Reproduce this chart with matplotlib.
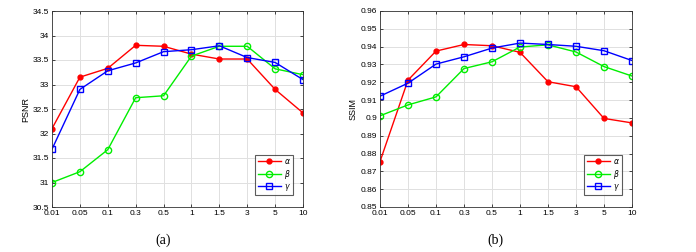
import matplotlib.pyplot as plt

lambdas = ["0.01", "0.05", "0.1", "0.3", "0.5", "1", "1.5", "3", "5", "10"]

psnr_alpha = [32.10, 33.15, 33.33, 33.80, 33.78, 33.62, 33.52, 33.52, 32.90, 32.42]
psnr_beta = [31.00, 31.22, 31.67, 32.73, 32.77, 33.58, 33.78, 33.78, 33.32, 33.20]
psnr_gamma = [31.68, 32.90, 33.28, 33.44, 33.67, 33.71, 33.79, 33.55, 33.45, 33.10]

ssim_alpha = [0.8755, 0.9212, 0.9375, 0.9412, 0.9405, 0.9368, 0.9203, 0.9175, 0.8997, 0.8972]
ssim_beta = [0.9012, 0.9073, 0.9118, 0.9277, 0.9315, 0.9398, 0.9410, 0.9370, 0.9288, 0.9235]
ssim_gamma = [0.9122, 0.9195, 0.9302, 0.9343, 0.9392, 0.9420, 0.9412, 0.9402, 0.9377, 0.9322]

plt.rcParams["font.family"] = ["Liberation Sans", "DejaVu Sans"]

fig = plt.figure(figsize=(6.96, 2.52), dpi=100)
ax1 = fig.add_axes([52 / 696, 45 / 252, 251 / 696, 196 / 252])
ax2 = fig.add_axes([380 / 696, 45 / 252, 252 / 696, 196 / 252])

x = list(range(len(lambdas)))


def draw(ax, a, b, g, ylim, yticks, ylabel, fmt):
    ax.plot(x, a, "-", color="red", marker="o", ms=3.5, mfc="red", mec="red", lw=1, label=r"$\alpha$")
    ax.plot(x, b, "-", color="#00ee00", marker="o", ms=4.5, mfc="none", mec="#00ee00", lw=1, label=r"$\beta$")
    ax.plot(x, g, "-", color="blue", marker="s", ms=4, mfc="none", mec="blue", lw=1, label=r"$\gamma$")
    ax.set_xlim(0, len(lambdas) - 1)
    ax.set_ylim(*ylim)
    ax.set_xticks(x)
    ax.set_xticklabels(lambdas)
    ax.set_yticks(yticks)
    ax.set_yticklabels([fmt(v) for v in yticks])
    ax.grid(True, color="#e0e0e0", lw=0.7)
    ax.set_axisbelow(True)
    ax.tick_params(direction="in", top=True, right=True, labelsize=6, length=2.5, width=0.5, pad=2)
    for s in ax.spines.values():
        s.set_linewidth(0.6)
        s.set_color("#333333")
    ax.set_ylabel(ylabel, fontsize=6.5, labelpad=2)
    leg = ax.legend(loc="lower right", bbox_to_anchor=(0.975, 0.04), fontsize=5.5, frameon=True,
                    fancybox=False, edgecolor="#333333", handlelength=3, borderpad=0.3,
                    labelspacing=0.2, handletextpad=0.4)
    leg.get_frame().set_linewidth(0.8)


draw(ax1, psnr_alpha, psnr_beta, psnr_gamma, (30.5, 34.5),
     [30.5, 31, 31.5, 32, 32.5, 33, 33.5, 34, 34.5], "PSNR", lambda v: f"{v:g}")
draw(ax2, ssim_alpha, ssim_beta, ssim_gamma, (0.85, 0.96),
     [0.85, 0.86, 0.87, 0.88, 0.89, 0.90, 0.91, 0.92, 0.93, 0.94, 0.95, 0.96], "SSIM", lambda v: f"{v:g}")

fig.text(163 / 696, 1 - 240 / 252, "(a)", ha="center", va="center", fontsize=10, family="Liberation Serif")
fig.text(495 / 696, 1 - 240 / 252, "(b)", ha="center", va="center", fontsize=10, family="Liberation Serif")

fig.savefig("out.png", dpi=100)
